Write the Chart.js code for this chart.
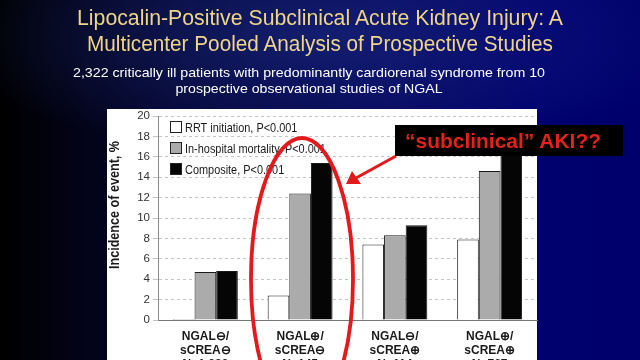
<!DOCTYPE html>
<html>
<head>
<meta charset="utf-8">
<script src="https://cdn.jsdelivr.net/npm/chart.js@4"></script>
<style>
  html, body { margin: 0; padding: 0; }
  body {
    width: 640px; height: 360px; overflow: hidden; position: relative;
    background:
      radial-gradient(ellipse 380px 120px at 50% 10%, rgba(30, 50, 140, 0.55), rgba(30, 50, 140, 0) 100%),
      linear-gradient(90deg, #000000 0%, #03031a 14%, #05053a 35%, #06065a 60%, #00006e 85%, #00006c 100%);
  }
  #chart { position: absolute; left: 0; top: 0; }
  #overlay { position: absolute; left: 0; top: 0; }
</style>
</head>
<body>
<canvas id="chart" width="640" height="390"></canvas>
<svg id="overlay" width="640" height="360" xmlns="http://www.w3.org/2000/svg">
  <g font-family="Liberation Sans, Arial, sans-serif">
    <text x="320" y="25" text-anchor="middle" font-size="22" fill="#efd58a" textLength="486" lengthAdjust="spacingAndGlyphs">Lipocalin-Positive Subclinical Acute Kidney Injury: A</text>
    <text x="320" y="51" text-anchor="middle" font-size="22" fill="#efd58a" textLength="466" lengthAdjust="spacingAndGlyphs">Multicenter Pooled Analysis of Prospective Studies</text>
    <text x="309" y="77" text-anchor="middle" font-size="13.5" fill="#ffffff" textLength="472" lengthAdjust="spacingAndGlyphs">2,322 critically ill patients with predominantly  cardiorenal syndrome  from  10</text>
    <text x="309" y="93" text-anchor="middle" font-size="13.5" fill="#ffffff" textLength="267" lengthAdjust="spacingAndGlyphs">prospective observational studies of NGAL</text>
  </g>
  <ellipse cx="302" cy="279" rx="51" ry="141" fill="none" stroke="#e3191c" stroke-width="3.8"/>
  <line x1="396" y1="156" x2="356" y2="178" stroke="#e3191c" stroke-width="3"/>
  <polygon points="346,184 352,171 361,184" fill="#e3191c"/>
  <rect x="395" y="125" width="228" height="31" fill="#000000"/>
  <text x="503" y="148" text-anchor="middle" font-family="Liberation Sans, Arial, sans-serif" font-weight="bold" font-size="20" fill="#e3221f" textLength="196" lengthAdjust="spacingAndGlyphs">“subclinical” AKI??</text>
</svg>
<script>
// groups along the x axis (three label lines each)
const groups = [
  ['NGAL⊖/', 'sCREA⊖', 'N=1,296'],
  ['NGAL⊕/', 'sCREA⊖', 'N=145'],
  ['NGAL⊖/', 'sCREA⊕', 'N=114'],
  ['NGAL⊕/', 'sCREA⊕', 'N=767']
]

const seriesNames = ['RRT initiation, P<0.001', 'In-hospital mortality, P<0.001', 'Composite, P<0.001']

// incidence of event, %
const rrtValues = [0.1, 2.4, 7.4, 7.9]
const mortalityValues = [4.7, 12.4, 8.3, 14.6]
const compositeValues = [4.8, 15.4, 9.3, 17.4]

const yTicks = { min: 0, max: 20, step: 2 }
const yTitle = 'Incidence of event, %'

const fills = ['#ffffff', '#ababab', '#050505']

// white figure panel behind the plot
const panelPlugin = {
  id: 'panel',
  beforeDraw(chart) {
    const ctx = chart.ctx
    ctx.save()
    ctx.fillStyle = '#ffffff'
    ctx.fillRect(107, 109, 430, 300)
    ctx.restore()
  }
}

// legend inside the plot (top left) and the rotated y title
const innerLegend = {
  id: 'innerLegend',
  afterDatasetsDraw(chart) {
    const ctx = chart.ctx
    const x = chart.chartArea.left + 12
    let y = chart.chartArea.top + 11
    chart.data.datasets.forEach(ds => {
      ctx.save()
      ctx.fillStyle = ds.backgroundColor
      ctx.strokeStyle = '#222'
      ctx.lineWidth = 1
      ctx.fillRect(x + 0.5, y - 5.5, 11, 11)
      ctx.strokeRect(x + 0.5, y - 5.5, 11, 11)
      ctx.translate(x + 15, y)
      ctx.scale(0.84, 1)
      ctx.fillStyle = '#1a1a1a'
      ctx.font = '13px "Liberation Sans", Arial, sans-serif'
      ctx.textBaseline = 'middle'
      ctx.fillText(ds.label, 0, 1)
      ctx.restore()
      y += 21
    })

    const yScale = chart.scales.y
    ctx.save()
    ctx.translate(yScale.left + 8, (yScale.top + yScale.bottom) / 2 - 13)
    ctx.rotate(-Math.PI / 2)
    ctx.scale(0.9, 1)
    ctx.fillStyle = '#1a1a1a'
    ctx.font = 'bold 14px "Liberation Sans", Arial, sans-serif'
    ctx.textAlign = 'center'
    ctx.textBaseline = 'middle'
    ctx.fillText(yTitle, 0, 0)
    ctx.restore()
  }
}

new Chart(document.getElementById('chart'), {
  type: 'bar',
  data: {
    labels: groups,
    datasets: [
      { label: seriesNames[0], data: rrtValues, backgroundColor: fills[0] },
      { label: seriesNames[1], data: mortalityValues, backgroundColor: fills[1] },
      { label: seriesNames[2], data: compositeValues, backgroundColor: fills[2] }
    ]
  },
  options: {
    responsive: false,
    animation: false,
    devicePixelRatio: 1,
    layout: { padding: { left: 107, right: 103, top: 116, bottom: 0 } },
    datasets: {
      bar: {
        borderColor: '#1a1a1a',
        borderWidth: 1,
        categoryPercentage: 0.685,
        barPercentage: 1
      }
    },
    plugins: {
      legend: { display: false },
      tooltip: { enabled: false }
    },
    scales: {
      x: {
        grid: { display: false, drawTicks: false },
        border: { color: '#777', width: 1 },
        ticks: {
          color: '#1a1a1a',
          padding: 9,
          maxRotation: 0,
          autoSkip: false,
          font: { family: '"Liberation Sans", Arial, sans-serif', size: 12, weight: 'bold', lineHeight: 1.2 }
        },
        afterFit(scale) { scale.height = 70 }
      },
      y: {
        min: yTicks.min,
        max: yTicks.max,
        ticks: {
          stepSize: yTicks.step,
          color: '#333',
          padding: 3,
          font: { family: '"Liberation Sans", Arial, sans-serif', size: 11.5 }
        },
        grid: { color: '#c4c4c4', tickLength: 5 },
        border: { color: '#888', width: 1, dash: [3, 3] },
        afterFit(scale) { scale.width = 51 }
      }
    }
  },
  plugins: [panelPlugin, innerLegend]
})
</script>
</body>
</html>
